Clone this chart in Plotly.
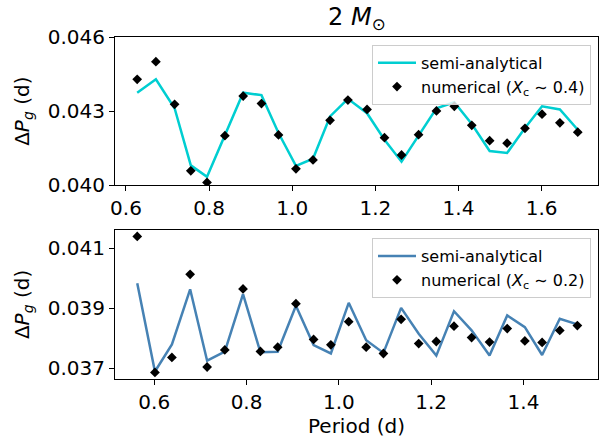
import plotly.graph_objects as go

# Upper panel: X_c ~ 0.4
top_period = [0.627, 0.672, 0.717, 0.756, 0.795, 0.838, 0.882, 0.926, 0.967, 1.009,
              1.050, 1.091, 1.134, 1.180, 1.222, 1.263, 1.304, 1.347, 1.390, 1.432,
              1.475, 1.517, 1.560, 1.601, 1.644, 1.687]
top_semi = [0.04375, 0.04429, 0.04312, 0.04081, 0.04035, 0.04201, 0.04375, 0.04365, 0.04212, 0.04079,
            0.04108, 0.04279, 0.04350, 0.04292, 0.04185, 0.04096, 0.04203, 0.04312, 0.04336, 0.04248,
            0.04139, 0.04131, 0.04232, 0.04320, 0.04307, 0.04225]
top_num = [0.04429, 0.04500, 0.04328, 0.04059, 0.04012, 0.04201, 0.04361, 0.04331, 0.04204, 0.04067,
           0.04103, 0.04263, 0.04345, 0.04307, 0.04193, 0.04123, 0.04205, 0.04301, 0.04320, 0.04243,
           0.04181, 0.04171, 0.04231, 0.04288, 0.04253, 0.04215]

# Lower panel: X_c ~ 0.2
bot_period = [0.5632, 0.6015, 0.6383, 0.6778, 0.7146, 0.7529, 0.7924, 0.8301, 0.8675, 0.9070,
              0.9453, 0.9827, 1.0214, 1.0592, 1.0966, 1.1349, 1.1730, 1.2112, 1.2495, 1.2876,
              1.3265, 1.3648, 1.4030, 1.4404, 1.4787, 1.5168]
bot_semi = [0.03983, 0.03689, 0.03779, 0.03963, 0.03725, 0.03755, 0.03947, 0.03753, 0.03755, 0.03908,
            0.03777, 0.03749, 0.03918, 0.03793, 0.03751, 0.03901, 0.03815, 0.03742, 0.03890, 0.03826,
            0.03742, 0.03876, 0.03837, 0.03744, 0.03865, 0.03846]
bot_num = [0.04139, 0.03686, 0.03736, 0.04013, 0.03704, 0.03761, 0.03964, 0.03756, 0.03770, 0.03915,
           0.03796, 0.03778, 0.03855, 0.03770, 0.03749, 0.03863, 0.03782, 0.03789, 0.03840, 0.03802,
           0.03787, 0.03832, 0.03791, 0.03786, 0.03826, 0.03842]

top_xticks = [0.6, 0.8, 1.0, 1.2, 1.4, 1.6]
top_yticks = [0.040, 0.043, 0.046]
bot_xticks = [0.6, 0.8, 1.0, 1.2, 1.4]
bot_yticks = [0.037, 0.039, 0.041]

FONT = "DejaVu Sans"
ylabel = "Δ<i>P</i><sub><i>g</i></sub> (d)"

fig = go.Figure()
fig.add_trace(go.Scatter(x=top_period, y=top_semi, mode="lines", name="semi-analytical",
                         line=dict(color="#00CED1", width=2.5), xaxis="x", yaxis="y", legend="legend"))
fig.add_trace(go.Scatter(x=top_period, y=top_num, mode="markers",
                         name="numerical (<i>X</i><sub>c</sub> ∼ 0.4)",
                         marker=dict(symbol="diamond", size=7.5, color="black"),
                         xaxis="x", yaxis="y", legend="legend"))
fig.add_trace(go.Scatter(x=bot_period, y=bot_semi, mode="lines", name="semi-analytical",
                         line=dict(color="#4682B4", width=2.5), xaxis="x2", yaxis="y2", legend="legend2"))
fig.add_trace(go.Scatter(x=bot_period, y=bot_num, mode="markers",
                         name="numerical (<i>X</i><sub>c</sub> ∼ 0.2)",
                         marker=dict(symbol="diamond", size=7.5, color="black"),
                         xaxis="x2", yaxis="y2", legend="legend2"))

axis_style = dict(showline=True, mirror=True, linecolor="black", linewidth=1,
                  ticks="outside", ticklen=5, tickwidth=1, tickcolor="black",
                  showgrid=False, zeroline=False,
                  tickfont=dict(family=FONT, size=20, color="black"))

legend_style = dict(bgcolor="rgba(255,255,255,0.8)", bordercolor="#cccccc", borderwidth=1,
                    font=dict(family=FONT, size=16, color="black"), itemwidth=38,
                    xanchor="right", yanchor="top", x=0.9855)

fig.update_layout(
    width=607, height=440,
    margin=dict(l=115, r=8, t=37, b=55),
    plot_bgcolor="white", paper_bgcolor="white",
    font=dict(family=FONT, color="black"),
    xaxis=dict(domain=[0, 1], anchor="y", range=[0.5736, 1.7357],
               tickvals=top_xticks, tickformat=".1f", **axis_style),
    yaxis=dict(domain=[0.566, 1], anchor="x", range=[0.040, 0.046],
               tickvals=top_yticks, tickformat=".3f",
               title=dict(text=ylabel, font=dict(family=FONT, size=20), standoff=12), **axis_style),
    xaxis2=dict(domain=[0, 1], anchor="y2", range=[0.515, 1.5615],
                tickvals=bot_xticks, tickformat=".1f",
                title=dict(text="Period (d)", font=dict(family=FONT, size=20), standoff=4), **axis_style),
    yaxis2=dict(domain=[0, 0.436], anchor="x2", range=[0.03664, 0.04161],
                tickvals=bot_yticks, tickformat=".3f",
                title=dict(text=ylabel, font=dict(family=FONT, size=20), standoff=12), **axis_style),
    legend=dict(y=0.977, **legend_style),
    legend2=dict(y=0.4118, **legend_style),
    annotations=[dict(text="2 <i>M</i><sub>⊙</sub>", xref="paper", yref="paper",
                      x=0.5, y=1 + (37 - 18) / 348,
                      xanchor="center", yanchor="middle", showarrow=False,
                      font=dict(family=FONT, size=24, color="black"))],
)

fig.write_html("out.html")
